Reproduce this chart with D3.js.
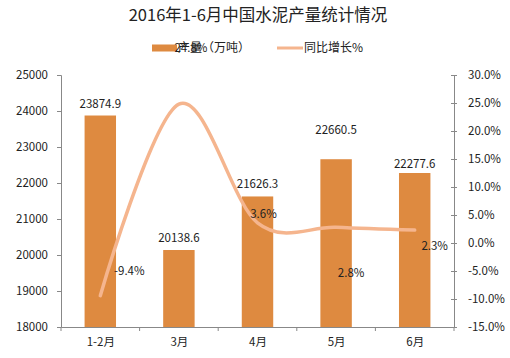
<!DOCTYPE html>
<html><head><meta charset="utf-8">
<script src="https://cdn.jsdelivr.net/npm/d3@7"></script>
<style>
html,body{margin:0;padding:0;background:#fff;}
svg text{font-family:"Noto Sans CJK SC","Liberation Sans",sans-serif;}
</style></head>
<body><svg id="c" width="510" height="358"></svg>
<script>
const categories = ["1-2月","3月","4月","5月","6月"];
const output = [23874.9, 20138.6, 21626.3, 22660.5, 22277.6];
const growth = [-9.4, 24.8, 3.6, 2.8, 2.3];
const leftTicks = [18000,19000,20000,21000,22000,23000,24000,25000];
const rightTicks = [-15,-10,-5,0,5,10,15,20,25,30];
const barLabelDy = [-12, -12, -12, -29, -9];
const lineLabelOff = [[29,-25],[12,-56],[6,-9],[15,46],[20,16]];

const svg = d3.select("#c");
const m = {l:61, r:454, t:75, b:327};
const barColor = "#DE8A40", lineColor = "#F5B58E", txt = "#222";

const x = d3.scaleBand().domain(categories).range([m.l, m.r]).paddingInner(0.6).paddingOuter(0.3);
const xc = d3.scalePoint().domain(categories).range([m.l, m.r]).padding(0.5);
const yL = d3.scaleLinear().domain([18000,25000]).range([m.b, m.t]);
const yR = d3.scaleLinear().domain([-15,30]).range([m.b, m.t]);

// title
svg.append("text").attr("x",258).attr("y",21).attr("text-anchor","middle")
  .attr("font-size",16.5).attr("fill","#222").text("2016年1-6月中国水泥产量统计情况");

// legend
svg.append("rect").attr("x",152).attr("y",44.5).attr("width",25).attr("height",7).attr("fill",barColor);
svg.append("text").attr("x",178).attr("y",52).attr("font-size",12).attr("fill",txt).text("产量（万吨）");
svg.append("line").attr("x1",277).attr("x2",303).attr("y1",48).attr("y2",48).attr("stroke",lineColor).attr("stroke-width",3);
svg.append("text").attr("x",304).attr("y",52).attr("font-size",12).attr("fill",txt).text("同比增长%");

// bars
svg.selectAll("rect.bar").data(output).join("rect").attr("class","bar")
  .attr("x",(d,i)=>x(categories[i])).attr("width",x.bandwidth())
  .attr("y",d=>yL(d)).attr("height",d=>m.b-yL(d)).attr("fill",barColor);

// axes
const gl = svg.append("g").attr("transform",`translate(${m.l},0)`)
  .call(d3.axisLeft(yL).tickValues(leftTicks).tickFormat(d3.format("d")).tickSize(4).tickPadding(9));
const gr = svg.append("g").attr("transform",`translate(${m.r},0)`)
  .call(d3.axisRight(yR).tickValues(rightTicks).tickFormat(d=>d.toFixed(1)+"%").tickSize(0).tickPadding(14));
gr.selectAll(".tick").append("line").attr("x1",-3).attr("x2",3).attr("stroke","#888");
const gx = svg.append("g").attr("transform",`translate(0,${m.b})`)
  .call(d3.axisBottom(xc).tickSize(0).tickPadding(11));
[gl,gr,gx].forEach(g=>{
  g.select(".domain").attr("stroke","#888");
  g.selectAll(".tick line").attr("stroke","#888");
  g.selectAll("text").attr("font-size",11.5).attr("fill",txt);
});
// category separator ticks
const bounds = d3.range(categories.length+1).map(i=>m.l + i*(m.r-m.l)/categories.length);
svg.selectAll("line.sep").data(bounds).join("line").attr("class","sep")
  .attr("x1",d=>d).attr("x2",d=>d).attr("y1",m.b).attr("y2",m.b+4).attr("stroke","#888");

// line
const line = d3.line().x((d,i)=>xc(categories[i])).y(d=>yR(d)).curve(d3.curveCatmullRom.alpha(0));
svg.append("path").datum(growth).attr("d",line).attr("fill","none")
  .attr("stroke",lineColor).attr("stroke-width",3.5).attr("stroke-linecap","round");

// bar labels
svg.selectAll("text.bl").data(output).join("text").attr("class","bl")
  .attr("x",(d,i)=>xc(categories[i])).attr("y",(d,i)=>yL(d)+barLabelDy[i]+4)
  .attr("text-anchor","middle").attr("font-size",11.5).attr("fill",txt).text(d=>d.toFixed(1));

// line labels
svg.selectAll("text.ll").data(growth).join("text").attr("class","ll")
  .attr("x",(d,i)=>xc(categories[i])+lineLabelOff[i][0]).attr("y",(d,i)=>yR(d)+lineLabelOff[i][1]+4)
  .attr("text-anchor","middle").attr("font-size",11.5).attr("fill",txt).text(d=>d.toFixed(1)+"%");
</script></body></html>
